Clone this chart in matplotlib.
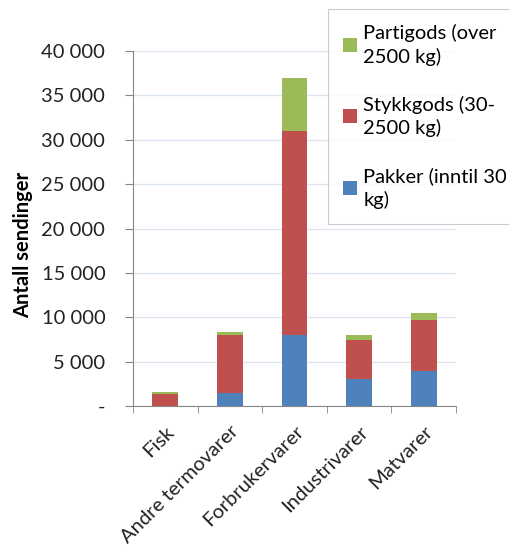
import matplotlib
matplotlib.use("Agg")
import matplotlib.pyplot as plt
from matplotlib.patches import Patch
from matplotlib.ticker import FuncFormatter, FixedLocator

plt.rcParams['font.family'] = ['Lato', 'DejaVu Sans']

categories = ["Fisk", "Andre termovarer", "Forbrukervarer", "Industrivarer", "Matvarer"]
pakker = [40, 1430, 8000, 3000, 3900]
stykkgods = [1300, 6600, 23000, 4400, 5800]
partigods = [250, 270, 6000, 600, 800]
series_labels = ["Pakker (inntil 30\nkg)", "Stykkgods (30-\n2500 kg)", "Partigods (over\n2500 kg)"]
colors = ["#4F81BD", "#C0504D", "#9BBB59"]

FS = 14.5
fig = plt.figure(figsize=(5.10, 5.54), dpi=100)
ax = fig.add_axes([0.261, 0.267, 0.633, 0.641])

x = list(range(len(categories)))
bottom2 = [a + b for a, b in zip(pakker, stykkgods)]
ax.bar(x, pakker, width=0.4, color=colors[0], zorder=3)
ax.bar(x, stykkgods, width=0.4, bottom=pakker, color=colors[1], zorder=3)
ax.bar(x, partigods, width=0.4, bottom=bottom2, color=colors[2], zorder=3)

ax.set_xlim(-0.5, len(categories) - 0.5)
ax.set_ylim(0, 40000)
ax.set_yticks(range(0, 40001, 5000))

def fmt(v, pos):
    if v == 0:
        return "-"
    return f"{int(v):,}".replace(",", " ")
ax.yaxis.set_major_formatter(FuncFormatter(fmt))

ax.set_xticks(x)
ax.set_xticklabels(categories, rotation=45, ha="right", rotation_mode="anchor")
ax.xaxis.set_minor_locator(FixedLocator([i - 0.5 for i in range(len(categories) + 1)]))
ax.tick_params(axis="x", which="major", length=0, pad=12, labelsize=FS, labelcolor="#222222")
ax.tick_params(axis="x", which="minor", length=5, color="#868686", direction="out")
ax.tick_params(axis="y", length=6, color="#868686", direction="out", pad=14, labelsize=FS, labelcolor="#222222")

ax.grid(axis="y", color="#DCE6F2", linewidth=1, zorder=0)
for s in ["top", "right"]:
    ax.spines[s].set_visible(False)
for s in ["left", "bottom"]:
    ax.spines[s].set_color("#868686")

ax.set_ylabel("Antall sendinger", fontsize=FS, fontweight="bold")
ax.yaxis.set_label_coords(-0.31, 0.455)

handles = [Patch(facecolor=colors[i]) for i in (2, 1, 0)]
labels = [series_labels[i] for i in (2, 1, 0)]
leg = fig.legend(handles, labels, loc="upper left", bbox_to_anchor=(328/510, 1 - 9/554),
                 frameon=True, fancybox=False, edgecolor="#BFBFBF", fontsize=FS,
                 handlelength=0.7, handleheight=0.7, handletextpad=0.3,
                 labelspacing=1.5, borderpad=0.75, borderaxespad=0)
for t in leg.get_texts():
    t.set_linespacing(1.35)
leg.get_frame().set_linewidth(0.8)

fig.savefig("out.png", dpi=100)
